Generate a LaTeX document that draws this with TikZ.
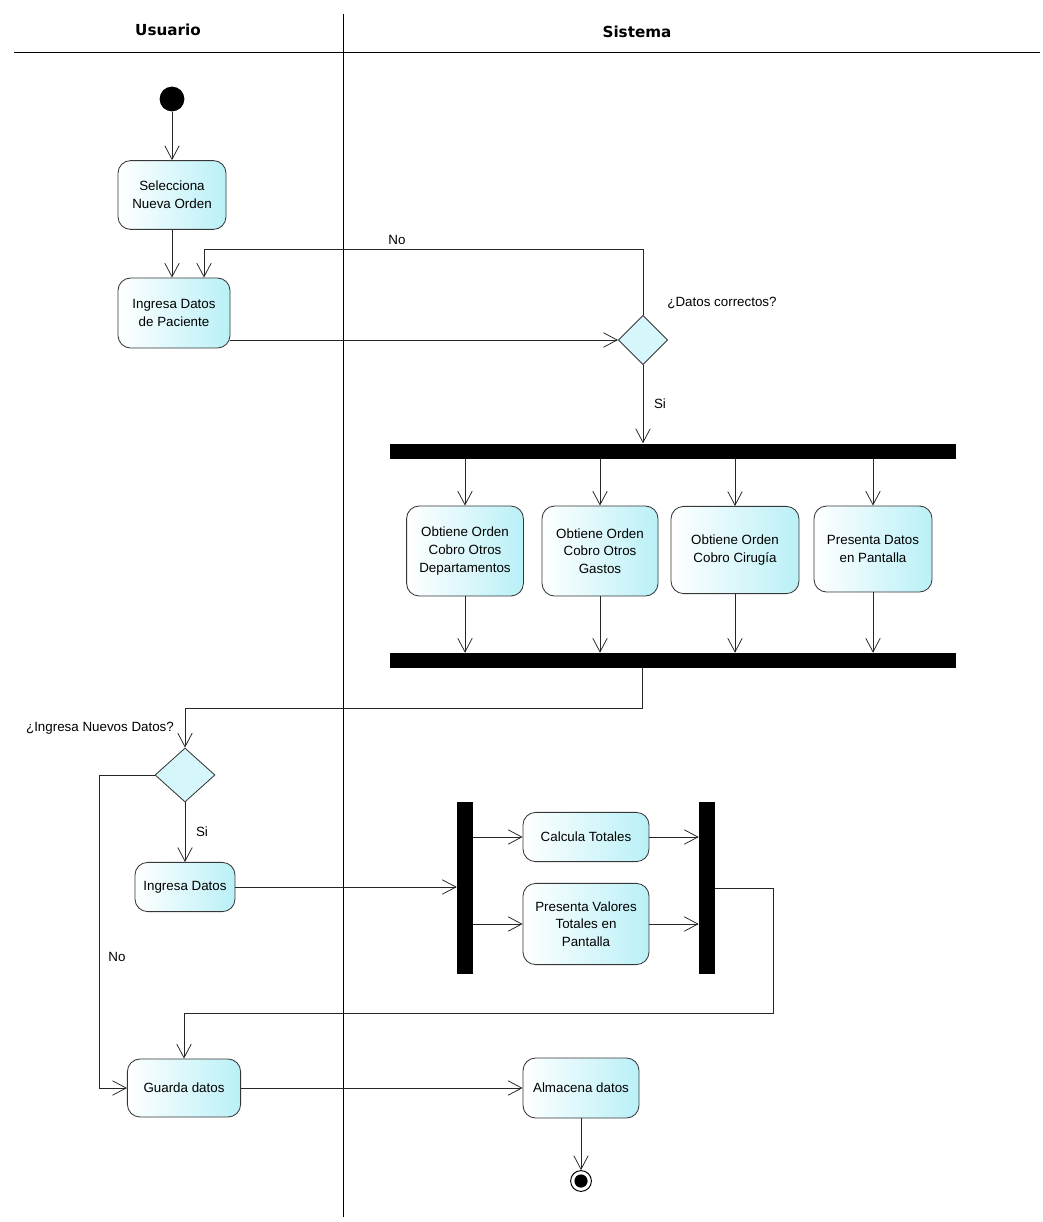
\documentclass[tikz,border=0pt]{standalone}
\usepackage{fontspec}
\setmainfont{Liberation Sans}
\newfontfamily\headfont{DejaVu Sans}
\usetikzlibrary{shapes.geometric,arrows.meta,calc}
\definecolor{actcolor}{RGB}{185,240,247}
\definecolor{edgecolor}{RGB}{55,55,55}

\tikzset{
  act/.style={draw=edgecolor, line width=0.6pt, rounded corners=9pt,
    left color=white, right color=actcolor, align=center, inner sep=2pt,
    font=\fontsize{9.5}{12.5}\selectfont},
  decision/.style={diamond, draw=edgecolor, line width=0.6pt, fill=actcolor!60,
    inner sep=0pt, aspect=1},
  bar/.style={fill=black, inner sep=0pt},
  flow/.style={draw=black!85, line width=0.55pt,
    -{Straight Barb[length=0.34cm,width=0.36cm]}},
  lbl/.style={font=\fontsize{9.5}{12}\selectfont, inner sep=0pt},
  lane/.style={font=\headfont\bfseries\fontsize{10.8}{12}\selectfont, inner sep=0pt},
}

\begin{document}
\begin{tikzpicture}[x=0.025cm, y=-0.025cm]
\useasboundingbox (0,0) rectangle (1042,1222);

% ================= SWIMLANES =================
\draw[line width=0.6pt] (14,52) -- (1040,52);
\draw[line width=0.6pt] (343,14) -- (343,1217);
\node[lane] (usr) at (168,30) {Usuario};
\node[lane] (sys) at (637,32) {Sistema};

% ================= USER: NEW ORDER =================
\node[circle, fill=black, minimum size=0.62cm, inner sep=0pt] (start) at (172,99) {};

\node[act, minimum width=2.7cm, minimum height=1.72cm] (sel) at (172,195)
{Selecciona\\ Nueva Orden};

\node[act, minimum width=2.8cm, minimum height=1.75cm] (ingP) at (174,313)
{Ingresa Datos\\ de Paciente};

% ================= SYSTEM: CHECK DATA =================
\node[decision, minimum width=1.23cm, minimum height=1.23cm] (chk) at (643,340) {};
\node[lbl] (chkq) at (722,303) {¿Datos correctos?};

\coordinate (noTop) at (204,249);
\node[lbl] (noA) at (397,240) {No};
\node[lbl] (siA) at (660,404) {Si};

% ================= PARALLEL RETRIEVAL =================
\node[bar, minimum width=14.15cm, minimum height=0.375cm] (fork) at (673,451) {};

\node[act, minimum width=2.92cm, minimum height=2.25cm] (otrosDep) at (465,551)
{Obtiene Orden\\ Cobro Otros\\ Departamentos};
\node[act, minimum width=2.9cm, minimum height=2.25cm] (otrosGas) at (600,551)
{Obtiene Orden\\ Cobro Otros\\ Gastos};
\node[act, minimum width=3.2cm, minimum height=2.18cm] (cirugia) at (735,550)
{Obtiene Orden\\ Cobro Cirugía};
\node[act, minimum width=2.95cm, minimum height=2.15cm] (pantalla) at (873,549)
{Presenta Datos\\ en Pantalla};

\node[bar, minimum width=14.15cm, minimum height=0.375cm] (join) at (673,660.5) {};

% ================= USER: MORE DATA? =================
\node[decision, minimum width=1.5cm, minimum height=1.35cm] (nuevos) at (185,775) {};
\node[lbl] (nuevosq) at (100,728) {¿Ingresa Nuevos Datos?};
\coordinate (joinOut) at (642,708);

\node[act, minimum width=2.5cm, minimum height=1.23cm] (ingD) at (185,887)
{Ingresa Datos};
\node[lbl] (siB) at (202,832) {Si};
\node[lbl] (noB) at (117,957) {No};
\coordinate (noLeft) at (99,1088);

% ================= TOTALS =================
\node[bar, minimum width=0.4cm, minimum height=4.3cm] (fork2) at (465,888) {};
\node[act, minimum width=3.15cm, minimum height=1.23cm] (calc) at (586,837)
{Calcula Totales};
\node[act, minimum width=3.15cm, minimum height=2.03cm] (presV) at (586,924)
{Presenta Valores\\ Totales en\\ Pantalla};
\node[bar, minimum width=0.4cm, minimum height=4.3cm] (join2) at (707,888) {};
\coordinate (loopR) at (773,1013);

% ================= SAVE =================
\node[act, minimum width=2.83cm, minimum height=1.45cm] (guarda) at (184,1088)
{Guarda datos};
\node[act, minimum width=2.9cm, minimum height=1.5cm] (almac) at (581,1088)
{Almacena datos};

\node[circle, draw=black, line width=0.7pt, minimum size=0.52cm, inner sep=0pt] (endN) at (581,1181) {};
\node[circle, fill=black, minimum size=0.33cm, inner sep=0pt] at (endN) {};

% ================= FLOWS =================
\draw[flow] (start) -- (start |- sel.north);
\draw[flow] (sel.south) -- (sel.south |- ingP.north);
\draw[flow] (ingP.east |- chk.west) -- (chk.west);
\draw[flow] (chk.north) |- (noTop) -- (noTop |- ingP.north);
\draw[flow] (chk.south) -- (chk.south |- fork.north);

\foreach \act in {otrosDep,otrosGas,cirugia,pantalla}{
  \draw[flow] (\act.north |- fork.south) -- (\act.north);
  \draw[flow] (\act.south) -- (\act.south |- join.north);
}

\draw[flow] (joinOut |- join.south) -- (joinOut) -| (nuevos.north);
\draw[flow] (nuevos.south) -- (ingD.north);
\draw[flow] (nuevos.west) -| (noLeft) -- (guarda.west);

\draw[flow] (ingD.east) -- (ingD.east -| fork2.west);
\draw[flow] (fork2.east |- calc.west) -- (calc.west);
\draw[flow] (fork2.east |- presV.west) -- (presV.west);
\draw[flow] (calc.east) -- (calc.east -| join2.west);
\draw[flow] (presV.east) -- (presV.east -| join2.west);
\draw[flow] (join2.east) -| (loopR) -| (guarda.north);

\draw[flow] (guarda.east) -- (almac.west);
\draw[flow] (almac.south) -- (endN.north);

\end{tikzpicture}
\end{document}
